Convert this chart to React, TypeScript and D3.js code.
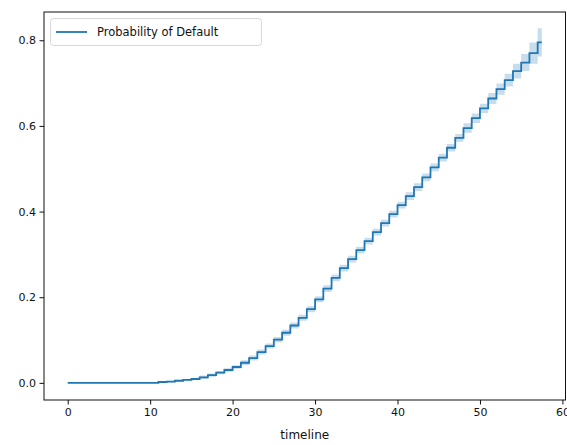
//@ts-nocheck
import React, { useRef, useEffect } from 'react'
import * as d3 from 'd3'

// step times (months) and cumulative probability of default
const timeline = [0, 11, 12, 13, 14, 15, 16, 17, 18, 19, 20, 21, 22, 23, 24, 25, 26, 27, 28, 29, 30, 31, 32, 33, 34, 35, 36, 37, 38, 39, 40, 41, 42, 43, 44, 45, 46, 47, 48, 49, 50, 51, 52, 53, 54, 55, 56, 57]
const pdValues = [0, 0.002, 0.003, 0.005, 0.007, 0.009, 0.013, 0.018, 0.024, 0.030, 0.037, 0.047, 0.058, 0.072, 0.086, 0.101, 0.117, 0.134, 0.152, 0.172, 0.195, 0.220, 0.245, 0.268, 0.289, 0.310, 0.331, 0.352, 0.373, 0.394, 0.415, 0.436, 0.457, 0.480, 0.503, 0.526, 0.549, 0.572, 0.595, 0.618, 0.641, 0.664, 0.686, 0.707, 0.728, 0.748, 0.770, 0.795]
const ciLower = [0, 0.000, 0.001, 0.003, 0.005, 0.007, 0.009, 0.014, 0.020, 0.026, 0.033, 0.041, 0.052, 0.066, 0.080, 0.095, 0.110, 0.127, 0.145, 0.165, 0.188, 0.212, 0.237, 0.260, 0.281, 0.302, 0.323, 0.344, 0.365, 0.386, 0.407, 0.427, 0.448, 0.471, 0.494, 0.517, 0.540, 0.563, 0.584, 0.607, 0.630, 0.651, 0.673, 0.692, 0.711, 0.728, 0.745, 0.762]
const ciUpper = [0, 0.004, 0.005, 0.007, 0.009, 0.011, 0.017, 0.022, 0.028, 0.034, 0.041, 0.053, 0.064, 0.078, 0.092, 0.107, 0.124, 0.141, 0.159, 0.179, 0.202, 0.228, 0.253, 0.276, 0.297, 0.318, 0.339, 0.360, 0.381, 0.402, 0.423, 0.445, 0.466, 0.489, 0.512, 0.535, 0.558, 0.581, 0.606, 0.629, 0.652, 0.677, 0.699, 0.722, 0.745, 0.768, 0.795, 0.828]
const lastTime = 57.5

const xTicks = [0, 10, 20, 30, 40, 50, 60]
const yTicks = [0.0, 0.2, 0.4, 0.6, 0.8]
const seriesLabel = 'Probability of Default'
const xLabel = 'timeline'

const width = 567
const height = 445

const App = () => {
  const node = useRef(null)

  useEffect(() => {
    document.body.style.margin = '0'
    const svg = d3.select(node.current)
    svg.selectAll('*').remove()

    const margin = { top: 12, right: 1.5, bottom: 45, left: 44 }
    const font = 'DejaVu Sans, sans-serif'

    const x = d3.scaleLinear().domain([-2.875, 60.375]).range([margin.left, width - margin.right])
    const y = d3.scaleLinear().domain([-0.04, 0.866]).range([height - margin.bottom, margin.top])

    const data = timeline.map((t, i) => ({ t, v: pdValues[i], lo: ciLower[i], hi: ciUpper[i] }))
    const last = data[data.length - 1]
    data.push({ t: lastTime, v: last.v, lo: last.lo, hi: last.hi })

    const area = d3
      .area()
      .curve(d3.curveStepAfter)
      .x((d) => x(d.t))
      .y0((d) => y(d.lo))
      .y1((d) => y(d.hi))

    const line = d3
      .line()
      .curve(d3.curveStepAfter)
      .x((d) => x(d.t))
      .y((d) => y(d.v))

    svg.append('path').attr('d', area(data)).attr('fill', '#1f77b4').attr('fill-opacity', 0.25)
    svg
      .append('path')
      .attr('d', line(data))
      .attr('fill', 'none')
      .attr('stroke', '#1f77b4')
      .attr('stroke-width', 1.8)

    // axes
    const xAxis = svg
      .append('g')
      .attr('transform', `translate(0,${height - margin.bottom})`)
      .call(d3.axisBottom(x).tickValues(xTicks).tickFormat(d3.format('d')).tickSize(4.5).tickPadding(3.5))
    xAxis.select('.domain').remove()

    const yAxis = svg
      .append('g')
      .attr('transform', `translate(${margin.left},0)`)
      .call(d3.axisLeft(y).tickValues(yTicks).tickFormat(d3.format('.1f')).tickSize(4.5).tickPadding(3.5))
    yAxis.select('.domain').remove()

    svg.selectAll('.tick text').attr('font-family', font).attr('font-size', 11).attr('fill', '#111')
    svg.selectAll('.tick line').attr('stroke', '#111')

    svg
      .append('rect')
      .attr('x', margin.left)
      .attr('y', margin.top)
      .attr('width', width - margin.right - margin.left)
      .attr('height', height - margin.bottom - margin.top)
      .attr('fill', 'none')
      .attr('stroke', '#111')
      .attr('stroke-width', 1)

    svg
      .append('text')
      .attr('x', (margin.left + width - margin.right) / 2)
      .attr('y', 439)
      .attr('text-anchor', 'middle')
      .attr('font-family', font)
      .attr('font-size', 12)
      .attr('fill', '#111')
      .text(xLabel)

    // legend
    const legend = svg.append('g')
    legend
      .append('rect')
      .attr('x', 50.5)
      .attr('y', 18.5)
      .attr('width', 211)
      .attr('height', 27)
      .attr('rx', 3)
      .attr('fill', 'white')
      .attr('fill-opacity', 0.8)
      .attr('stroke', '#d8d8d8')
    legend
      .append('line')
      .attr('x1', 56)
      .attr('x2', 87)
      .attr('y1', 32)
      .attr('y2', 32)
      .attr('stroke', '#1f77b4')
      .attr('stroke-width', 1.8)
    legend
      .append('text')
      .attr('x', 97)
      .attr('y', 36)
      .attr('font-family', font)
      .attr('font-size', 11.5)
      .attr('fill', '#111')
      .text(seriesLabel)
  }, [])

  return <svg ref={node} width={width} height={height} style={{ display: 'block' }}></svg>
}

export default App
